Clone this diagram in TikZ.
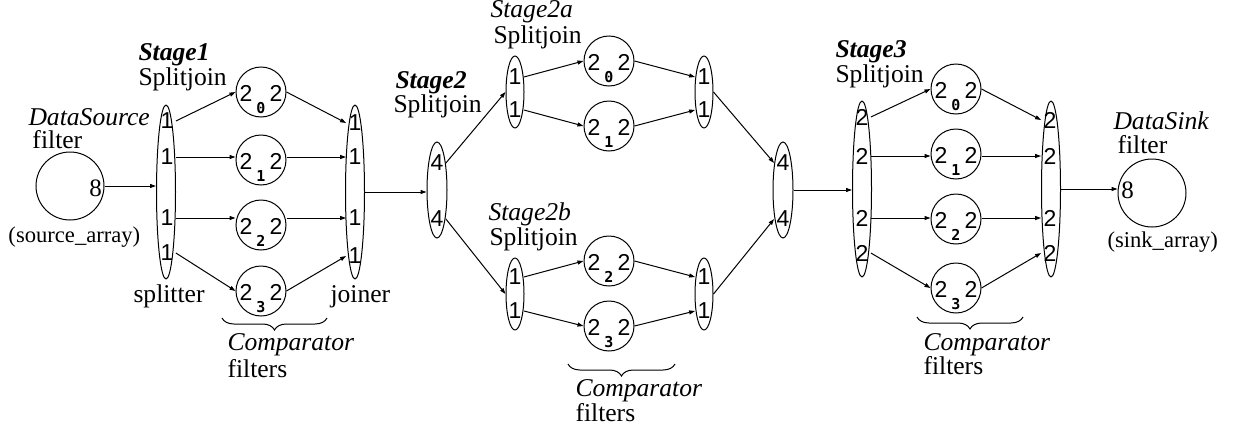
\documentclass[tikz,border=0pt]{standalone}
\usepackage{fontspec}
\setmainfont{Liberation Serif}
\newfontfamily\digfont{Liberation Sans}
\newfontfamily\subfont{DejaVu Sans Mono}
\usetikzlibrary{shapes.geometric,arrows.meta,decorations.pathreplacing}

\tikzset{
  lbl/.style={font=\fontsize{12.8}{14}\selectfont, inner sep=0, anchor=base west},
  arrname/.style={lbl, font=\fontsize{11.3}{13}\selectfont},
  sj/.style={draw, ellipse, inner sep=0},
  dig/.style={font=\digfont\fontsize{11.5}{12}\selectfont, inner sep=0, inner xsep=1pt},
  two/.style={font=\digfont\fontsize{11.5}{12}\selectfont, inner sep=0},
  sub/.style={font=\subfont\bfseries\fontsize{7.5}{8}\selectfont, inner sep=0},
  eight/.style={font=\fontsize{12.5}{13}\selectfont, inner sep=0},
  cmp/.style={draw, circle, minimum size=25pt, inner sep=0},
  io/.style={draw, circle, minimum size=34pt, inner sep=0},
  arr/.style={-{Triangle[length=3pt,width=2pt]}},
  brc/.style={decorate, decoration={brace, amplitude=6pt}},
}

% comparator filter: circle with input/output rates and its index
\newcommand\cmpfilter[3]{%
  \node[cmp] (#1) at (#2) {};
  \node[two] (#1l) at ([xshift=-7.5pt,yshift=-0.5pt]#1.center) {2};
  \node[two] (#1r) at ([xshift=7.5pt,yshift=-0.5pt]#1.center) {2};
  \node[sub] (#1s) at ([yshift=-8pt]#1.center) {#3};
}

\begin{document}
\begin{tikzpicture}[x=0.5pt, y=-0.5pt, line width=0.5pt]
\useasboundingbox (0,0) rectangle (1249,429);

% ---------- source ----------
\node[io] (src) at (70,186) {};
\node[eight] (src8) at ([xshift=-4.5pt,yshift=-1pt]src.east) {8};
\node[lbl] (srcname) at (28,125) {\itshape DataSource};
\node[lbl] (srcf) at (32,148) {filter};
\node[arrname] (srcarr) at (8,242) {(source\_array)};

% ---------- stage 1 ----------
\node[lbl] (st1) at (138,60) {\bfseries\itshape Stage1};
\node[lbl] (st1sj) at (138,85) {Splitjoin};
\node[sj, minimum width=9.5pt, minimum height=87pt] (s1) at (166,192) {};
\node[dig] (s1d1) at (167,121) {1};
\node[dig] (s1d2) at (167,157) {1};
\node[dig] (s1d3) at (167,218) {1};
\node[dig] (s1d4) at (167,253) {1};
\node[sj, minimum width=9.5pt, minimum height=87pt] (j1) at (355,192) {};
\node[dig] (j1d1) at (355,123) {1};
\node[dig] (j1d2) at (355,157) {1};
\node[dig] (j1d3) at (355,218) {1};
\node[dig] (j1d4) at (355,256) {1};
\cmpfilter{a0}{261,92}{0}
\cmpfilter{a1}{261,160}{1}
\cmpfilter{a2}{261,225}{2}
\cmpfilter{a3}{261,291}{3}
\node[lbl] (spl) at (133,302) {splitter};
\node[lbl] (joi) at (330,302) {joiner};
\draw[brc] (327,318) -- (222,318);
\node[lbl] (cmp1) at (227,350) {\itshape Comparator};
\node[lbl] (cmp1f) at (227,377) {filters};

\draw[arr] (src.east) -- (src.east -| s1.west);
\draw[arr] (s1d1.east) -- (a0.west);
\draw[arr] (s1d2.east) -- (s1d2.east -| a1.west);
\draw[arr] (s1d3.east) -- (s1d3.east -| a2.west);
\draw[arr] (s1d4.east) -- (a3.west);
\draw[arr] (a0.east) -- (j1d1.west);
\draw[arr] (j1d2.west -| a1.east) -- (j1d2.west);
\draw[arr] (j1d3.west -| a2.east) -- (j1d3.west);
\draw[arr] (a3.east) -- (j1d4.west);

% ---------- stage 2 ----------
\node[lbl] (st2) at (395,88) {\bfseries\itshape Stage2};
\node[lbl] (st2sj) at (393,112) {Splitjoin};
\node[sj, minimum width=10pt, minimum height=48pt] (s2) at (437,190) {};
\node[dig] (s2d1) at (437,163) {4};
\node[dig] (s2d2) at (437,219) {4};
\node[sj, minimum width=10pt, minimum height=48pt] (j2) at (783,190) {};
\node[dig] (j2d1) at (783,163) {4};
\node[dig] (j2d2) at (783,219) {4};

% stage 2a
\node[lbl] (st2a) at (490,17) {\itshape Stage2a};
\node[lbl] (st2asj) at (493,43) {Splitjoin};
\node[sj, minimum width=9pt, minimum height=36pt] (s2a) at (515,92) {};
\node[dig] (s2ad1) at (515,77) {1};
\node[dig] (s2ad2) at (515,110) {1};
\node[sj, minimum width=9pt, minimum height=36pt] (j2a) at (704,92) {};
\node[dig] (j2ad1) at (704,77) {1};
\node[dig] (j2ad2) at (704,110) {1};
\cmpfilter{b0}{609,61}{0}
\cmpfilter{b1}{609,126}{1}

% stage 2b
\node[lbl] (st2b) at (488,220) {\itshape Stage2b};
\node[lbl] (st2bsj) at (489,245) {Splitjoin};
\node[sj, minimum width=9pt, minimum height=36pt] (s2b) at (515,294) {};
\node[dig] (s2bd1) at (515,277) {1};
\node[dig] (s2bd2) at (515,311) {1};
\node[sj, minimum width=9pt, minimum height=36pt] (j2b) at (704,294) {};
\node[dig] (j2bd1) at (704,277) {1};
\node[dig] (j2bd2) at (704,311) {1};
\cmpfilter{b2}{609,261}{2}
\cmpfilter{b3}{609,326}{3}

\draw[brc] (675,364) -- (568,364);
\node[lbl] (cmp2) at (575,396) {\itshape Comparator};
\node[lbl] (cmp2f) at (575,421) {filters};

\draw[arr] (j1.east) -- (j1.east -| s2.west);
\draw[arr] (s2d1.east) -- (s2a.west);
\draw[arr] (s2d2.east) -- (s2b.west);
\draw[arr] (s2ad1.east) -- (b0.west);
\draw[arr] (s2ad2.east) -- (b1.west);
\draw[arr] (b0.east) -- (j2ad1.west);
\draw[arr] (b1.east) -- (j2ad2.west);
\draw[arr] (s2bd1.east) -- (b2.west);
\draw[arr] (s2bd2.east) -- (b3.west);
\draw[arr] (b2.east) -- (j2bd1.west);
\draw[arr] (b3.east) -- (j2bd2.west);
\draw[arr] (j2a.east) -- (j2d1.west);
\draw[arr] (j2b.east) -- (j2d2.west);

% ---------- stage 3 ----------
\node[lbl] (st3) at (835,57) {\bfseries\itshape Stage3};
\node[lbl] (st3sj) at (835,82) {Splitjoin};
\node[sj, minimum width=9.5pt, minimum height=88pt] (s3) at (862,189) {};
\node[dig] (s3d1) at (862,117) {2};
\node[dig] (s3d2) at (862,156) {2};
\node[dig] (s3d3) at (862,218) {2};
\node[dig] (s3d4) at (862,253) {2};
\node[sj, minimum width=9.5pt, minimum height=88pt] (j3) at (1051,189) {};
\node[dig] (j3d1) at (1050,120) {2};
\node[dig] (j3d2) at (1050,156) {2};
\node[dig] (j3d3) at (1050,218) {2};
\node[dig] (j3d4) at (1050,253) {2};
\cmpfilter{c0}{956,89}{0}
\cmpfilter{c1}{956,154}{1}
\cmpfilter{c2}{956,219}{2}
\cmpfilter{c3}{956,288}{3}
\draw[brc] (1023,317) -- (917,317);
\node[lbl] (cmp3) at (923,350) {\itshape Comparator};
\node[lbl] (cmp3f) at (923,374) {filters};

\draw[arr] (j2.east) -- (j2.east -| s3.west);
\draw[arr] (s3d1.east) -- (c0.west);
\draw[arr] (s3d2.east) -- (s3d2.east -| c1.west);
\draw[arr] (s3d3.east) -- (s3d3.east -| c2.west);
\draw[arr] (s3d4.east) -- (c3.west);
\draw[arr] (c0.east) -- (j3d1.west);
\draw[arr] (j3d2.west -| c1.east) -- (j3d2.west);
\draw[arr] (j3d3.west -| c2.east) -- (j3d3.west);
\draw[arr] (c3.east) -- (j3d4.west);

% ---------- sink ----------
\node[io] (snk) at (1152,193) {};
\node[eight] (snk8) at ([xshift=5pt,yshift=1.5pt]snk.west) {8};
\node[lbl] (snkname) at (1113,129) {\itshape DataSink};
\node[lbl] (snkf) at (1117,153) {filter};
\node[arrname] (snkarr) at (1107,247) {(sink\_array)};
\draw[arr] (j3.east) -- (j3.east -| snk.west);

\end{tikzpicture}
\end{document}
